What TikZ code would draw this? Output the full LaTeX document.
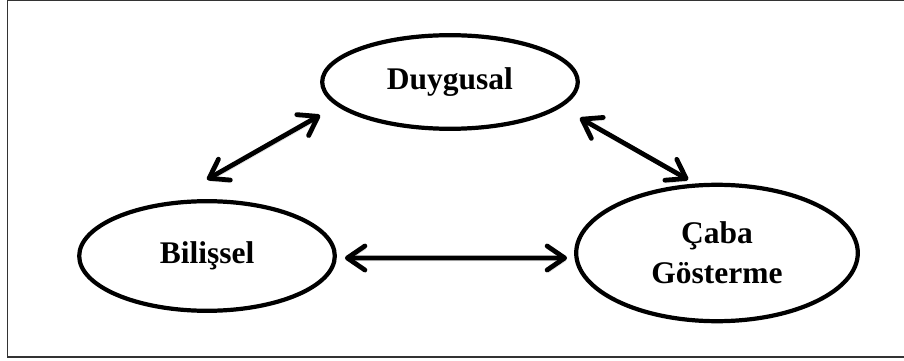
\documentclass[tikz,border=0pt]{standalone}
\usepackage{fontspec}
\setmainfont{Liberation Serif}
\usetikzlibrary{arrows.meta,shapes.geometric}
\definecolor{cink}{HTML}{000000}
\definecolor{cframe}{HTML}{333333}

\begin{document}
\begin{tikzpicture}[
    >={Straight Barb[length=4.4mm, width=6mm, line cap=round, line join=round]},
    link/.style={<->, line width=3.4pt, draw=cink, line cap=round,
                 preaction={draw=black!13, transform canvas={xshift=0.3mm, yshift=-0.7mm}}},
    oval/.style={draw=cink, line width=3pt, ellipse, inner sep=0pt, align=center,
                 font=\fontsize{22.4}{28.5}\selectfont\bfseries, text=cink},
  ]
  \useasboundingbox (0,0) rectangle (22.6,9);
  \draw[cframe, line width=1.1pt] (0.19,0.075) rectangle (22.7,8.99);

  \node[oval, minimum width=6.39cm, minimum height=2.34cm] (duy) at (11.25,6.95) {Duygusal};
  \node[oval, minimum width=6.39cm, minimum height=2.74cm] (bil) at (5.175,2.6) {Bilişsel};
  \node[oval, minimum width=7.04cm, minimum height=3.41cm] (cab) at (17.925,2.675) {Çaba\\Gösterme};

  \draw[link] ([yshift=4.9mm]bil.north) -- ([yshift=-8.3mm]duy.west);
  \draw[link] ([yshift=-9mm]duy.east) -- ([xshift=-7.2mm, yshift=0.75mm]cab.north);
  \draw[link] ([xshift=2mm, yshift=-0.5mm]bil.east) -- ([xshift=-1.75mm, yshift=-1.25mm]cab.west);
\end{tikzpicture}
\end{document}
